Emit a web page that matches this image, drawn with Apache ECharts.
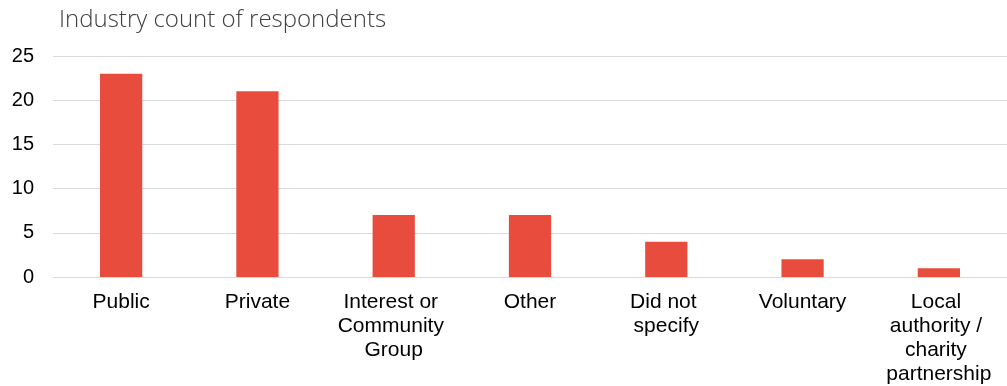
<!DOCTYPE html>
<html>
<head>
<meta charset="utf-8">
<script src="https://cdn.jsdelivr.net/npm/echarts@6/dist/echarts.min.js"></script>
<style>
  html, body { margin: 0; padding: 0; background: #fff; }
  #chart { width: 1007px; height: 386px; }
</style>
</head>
<body>
<div id="chart"></div>
<script>
// Respondents grouped by industry sector
const categories = ['Public', 'Private', 'Interest or Community Group', 'Other', 'Did not specify', 'Voluntary', 'Local authority / charity partnership'];
const counts = [23, 21, 7, 7, 4, 2, 1];
const yTicks = { min: 0, max: 25, interval: 5 };

const chart = echarts.init(document.getElementById('chart'));
chart.setOption({
  animation: false,
  title: {
    text: 'Industry count of respondents',
    left: 54,
    top: 3,
    textStyle: {
      fontFamily: 'Open Sans',
      fontWeight: 300,
      fontSize: 24,
      color: '#404040'
    }
  },
  grid: { left: 53, right: -12, top: 56, bottom: 109, containLabel: false },
  xAxis: {
    type: 'category',
    data: categories,
    axisTick: { show: false },
    axisLine: { lineStyle: { color: '#d9d9d9', width: 1 } },
    axisLabel: {
      interval: 0,
      margin: 13,
      width: 128,
      overflow: 'break',
      lineHeight: 24,
      fontFamily: 'Liberation Sans, Arial, sans-serif',
      fontSize: 21,
      color: '#000'
    }
  },
  yAxis: {
    type: 'value',
    min: yTicks.min,
    max: yTicks.max,
    interval: yTicks.interval,
    axisLine: { show: false },
    axisTick: { show: false },
    splitLine: { lineStyle: { color: '#d9d9d9', width: 1 } },
    axisLabel: {
      margin: 19,
      fontFamily: 'Liberation Sans, Arial, sans-serif',
      fontSize: 20,
      color: '#000'
    }
  },
  series: [{
    type: 'bar',
    data: counts,
    barWidth: '31%',
    itemStyle: { color: '#e84c3d' }
  }]
});
</script>
</body>
</html>
